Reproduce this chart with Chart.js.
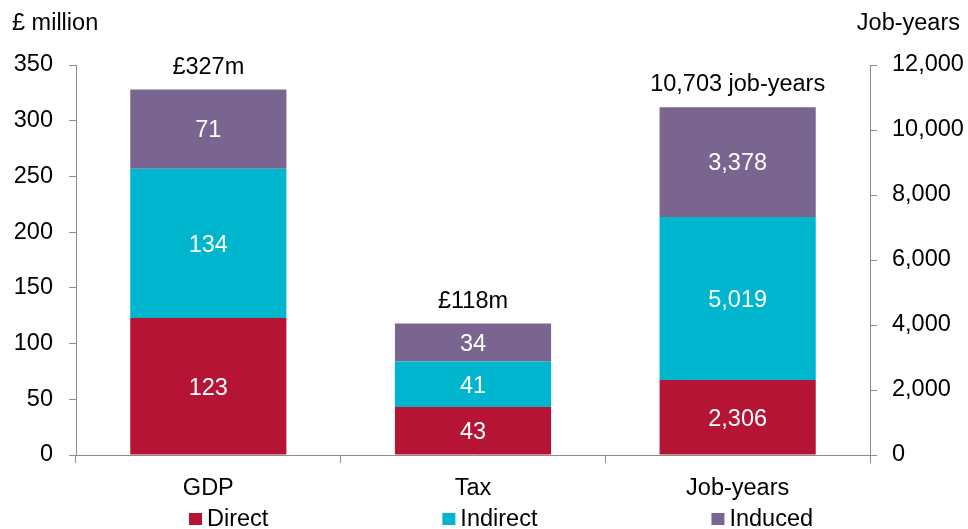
<!DOCTYPE html>
<html>
<head>
<meta charset="utf-8">
<script src="https://cdn.jsdelivr.net/npm/chart.js@4/dist/chart.umd.min.js"></script>
<style>
  html, body { margin: 0; padding: 0; background: #fff; }
  #wrap { width: 968px; height: 529px; position: relative; }
</style>
</head>
<body>
<div id="wrap"><canvas id="impactChart"></canvas></div>
<script>
const categories = ["GDP", "Tax", "Job-years"];
const seriesNames = ["Direct", "Indirect", "Induced"];
const seriesColors = ["#B51434", "#00B5CE", "#7A6591"];

// £ million (left axis): GDP and Tax
const directGbp = [123, 43, null];
const indirectGbp = [134, 41, null];
const inducedGbp = [71, 34, null];

// job-years (right axis)
const directJobs = [null, null, 2306];
const indirectJobs = [null, null, 5019];
const inducedJobs = [null, null, 3378];

const totalLabels = ["£327m", "£118m", "10,703 job-years"];

const FONT = "'Liberation Sans', Arial, sans-serif";
const FSIZE = 23.5;
const AXIS_GREY = "#8C8C8C";

function barSet(i, data, axis) {
  return {
    label: seriesNames[i],
    data: data,
    backgroundColor: seriesColors[i],
    yAxisID: axis,
    stack: "all",
    categoryPercentage: 0.59,
    barPercentage: 1.0
  };
}

// white numbers inside segments, totals above each column, axis captions, legend
const labelPlugin = {
  id: "labelPlugin",
  afterDatasetsDraw(chart) {
    const ctx = chart.ctx;
    ctx.save();
    ctx.font = FSIZE + "px " + FONT;
    ctx.textAlign = "center";
    ctx.textBaseline = "alphabetic";
    const capHalf = FSIZE * 0.716 / 2;
    const tops = categories.map(() => Infinity);

    chart.data.datasets.forEach((ds, i) => {
      const meta = chart.getDatasetMeta(i);
      meta.data.forEach((el, j) => {
        const v = ds.data[j];
        if (v === null || v === undefined) return;
        const mid = (el.y + el.base) / 2;
        ctx.fillStyle = "#fff";
        ctx.fillText(v.toLocaleString("en-US"), el.x, mid + capHalf);
        tops[j] = Math.min(tops[j], el.y);
      });
    });

    const xs = chart.getDatasetMeta(0).data.map(el => el.x);
    ctx.fillStyle = "#000";
    totalLabels.forEach((t, j) => {
      ctx.fillText(t, xs[j], tops[j] - 16);
    });

    // axis captions
    ctx.textAlign = "left";
    ctx.fillText("£ million", 12, 30);
    ctx.textAlign = "right";
    ctx.fillText("Job-years", 960, 30);

    // legend
    ctx.textAlign = "left";
    let x = 189;
    const gap = 174;
    seriesNames.forEach((name, i) => {
      ctx.fillStyle = seriesColors[i];
      ctx.fillRect(x, 513, 13, 12);
      ctx.fillStyle = "#000";
      ctx.fillText(name, x + 18, 526);
      x += 18 + ctx.measureText(name).width + gap;
    });
    ctx.restore();
  }
};

new Chart(document.getElementById("impactChart"), {
  type: "bar",
  data: {
    labels: categories,
    datasets: [
      barSet(0, directGbp, "y"),
      barSet(1, indirectGbp, "y"),
      barSet(2, inducedGbp, "y"),
      barSet(0, directJobs, "y1"),
      barSet(1, indirectJobs, "y1"),
      barSet(2, inducedJobs, "y1")
    ]
  },
  options: {
    responsive: true,
    maintainAspectRatio: false,
    animation: false,
    layout: { padding: { top: 65, left: 0, right: 0, bottom: 0 } },
    plugins: {
      legend: { display: false },
      tooltip: { enabled: false }
    },
    scales: {
      x: {
        stacked: true,
        afterFit(scale) { scale.height = 74; },
        border: { color: AXIS_GREY, width: 1 },
        grid: { drawOnChartArea: false, offset: true, tickLength: 8, color: AXIS_GREY },
        ticks: { color: "#000", padding: 11, font: { family: FONT, size: FSIZE } }
      },
      y: {
        position: "left",
        stacked: true,
        min: 0,
        max: 350,
        afterFit(scale) { scale.width = 76; },
        border: { color: AXIS_GREY, width: 1 },
        grid: { drawOnChartArea: false, tickLength: 7, color: AXIS_GREY },
        ticks: { stepSize: 50, color: "#000", padding: 16, font: { family: FONT, size: FSIZE } }
      },
      y1: {
        position: "right",
        stacked: true,
        min: 0,
        max: 12000,
        afterFit(scale) { scale.width = 98; },
        border: { color: AXIS_GREY, width: 1 },
        grid: { drawOnChartArea: false, tickLength: 7, color: AXIS_GREY },
        ticks: { stepSize: 2000, color: "#000", padding: 15, font: { family: FONT, size: FSIZE } }
      }
    }
  },
  plugins: [labelPlugin]
});
</script>
</body>
</html>
